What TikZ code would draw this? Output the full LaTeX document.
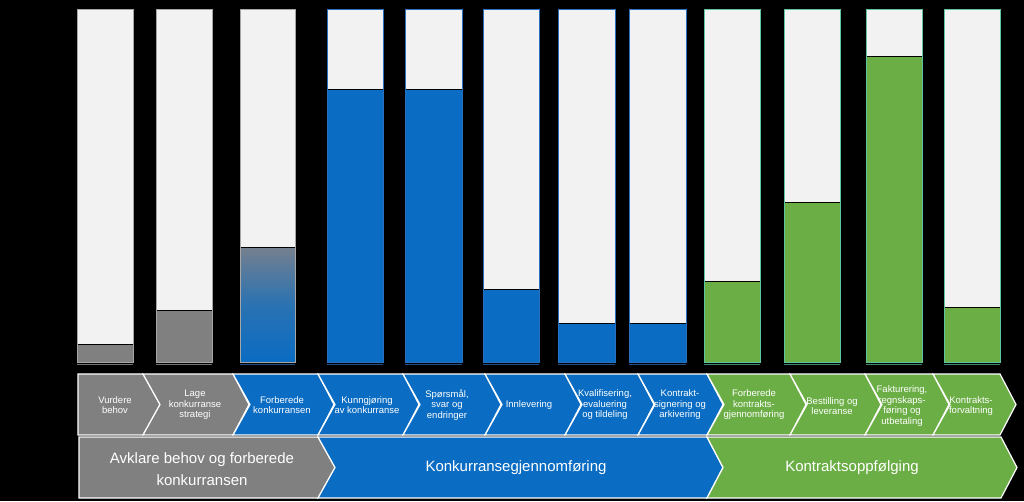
\documentclass[tikz,border=0pt]{standalone}
\usepackage{fontspec}
\setmainfont{Liberation Sans}
\definecolor{cgrey}{HTML}{808080}
\definecolor{cblue}{HTML}{0A6CC2}
\definecolor{cgreen}{HTML}{6CAE46}
\definecolor{cempty}{HTML}{F2F2F2}
\definecolor{ogrey}{HTML}{A6A6A6}
\definecolor{oblue}{HTML}{2A70C0}
\definecolor{ogreen}{HTML}{5CC49E}
\definecolor{cgradtop}{HTML}{75808E}
\begin{document}
\begin{tikzpicture}[x=1pt,y=-1pt,
  lbl/.style={text=white, font=\fontsize{9.5}{10.5}\selectfont, align=center, inner sep=0pt},
  big/.style={text=white, font=\fontsize{15}{22}\selectfont, align=center, inner sep=0pt},
  chev/.style={draw=white, line width=1.2pt, line join=miter},
  level/.style={draw=black, line width=0.9pt}]
\fill[black] (0,0) rectangle (1024,501);
\useasboundingbox (0,0) rectangle (1024,501);

% bars
\foreach \xa/\xb/\yf/\c/\o in {77/133/344/cgrey/ogrey, 156/212/310/cgrey/ogrey,
  327/383/89/cblue/oblue, 405/462/89/cblue/oblue, 483/539/289/cblue/oblue,
  558/615/323/cblue/oblue, 629/686/323/cblue/oblue,
  704/760/281/cgreen/ogreen, 784/840/202/cgreen/ogreen,
  866/922/56/cgreen/ogreen, 944/1000/307/cgreen/ogreen}{
  \fill[cempty] (\xa,9) rectangle (\xb,362);
  \fill[\c] (\xa,\yf) rectangle (\xb,362);
  \draw[level] (\xa,\yf) -- (\xb,\yf);
  \draw[\o, line width=0.9pt] (\xa,9) rectangle (\xb,362);
  \draw[\o!70!black, line width=1.4pt] (\xa,364.5) -- (\xb,364.5);
}
% bar 3 (gradient)
\fill[cempty] (240,9) rectangle (295,362);
\shade[top color=cgradtop, bottom color=cblue, middle color=cblue!70!cgradtop] (240,247) rectangle (295,362);
\draw[level] (240,247) -- (295,247);
\draw[ogrey, line width=0.9pt] (240,9) rectangle (295,362);
\draw[oblue!70!black, line width=1.4pt] (240,364.5) -- (295,364.5);

% top chevron row
\def\ct{374}\def\cb{435}\def\cm{404.5}
\fill[cgrey, chev] (78,\ct) -- (143,\ct) -- (160,\cm) -- (143,\cb) -- (78,\cb) -- cycle;
\foreach \xl/\xr/\c in {143/233/cgrey, 233/318/cblue, 318/403/cblue, 403/485/cblue,
  485/565/cblue, 565/638/cblue, 638/707/cblue, 707/790/cgreen, 790/865/cgreen,
  865/933/cgreen, 933/1000/cgreen}{
  \fill[\c, chev] (\xl,\ct) -- (\xr,\ct) -- ({\xr+16},\cm) -- (\xr,\cb) -- (\xl,\cb) -- ({\xl+17},\cm) -- cycle;
}

% bottom row
\def\bt{437}\def\bb{498}\def\bm{467.5}
\fill[cgrey, chev] (79,\bt) -- (318,\bt) -- (335,\bm) -- (318,\bb) -- (79,\bb) -- cycle;
\fill[cblue, chev] (318,\bt) -- (707,\bt) -- (723,\bm) -- (707,\bb) -- (318,\bb) -- (335,\bm) -- cycle;
\fill[cgreen, chev] (707,\bt) -- (1001,\bt) -- (1017,\bm) -- (1001,\bb) -- (707,\bb) -- (723,\bm) -- cycle;

% labels
\node[lbl] (t1) at (115,405) {Vurdere\\behov};
\node[lbl] (t2) at (195,405) {Lage\\konkurranse\\strategi};
\node[lbl] (t3) at (282,405) {Forberede\\konkurransen};
\node[lbl] (t4) at (367,405) {Kunngjøring\\av konkurranse};
\node[lbl] (t5) at (447,405) {Spørsmål,\\svar og\\endringer};
\node[lbl] (t6) at (529,405) {Innlevering};
\node[lbl] (t7) at (605,405) {Kvalifisering,\\evaluering\\og tildeling};
\node[lbl] (t8) at (680,405) {Kontrakt-\\signering og\\arkivering};
\node[lbl] (t9) at (754,405) {Forberede\\kontrakts-\\gjennomføring};
\node[lbl] (t10) at (832,406) {Bestilling og\\leveranse};
\node[lbl] (t11) at (902,406) {Fakturering,\\regnskaps-\\føring og\\utbetaling};
\node[lbl] (t12) at (971,406) {Kontrakts-\\forvaltning};

\node[big] (p1) at (202,469) {Avklare behov og forberede\\konkurransen};
\node[big] (p2) at (516,468) {Konkurransegjennomføring};
\node[big] (p3) at (852,468) {Kontraktsoppfølging};
\end{tikzpicture}
\end{document}
